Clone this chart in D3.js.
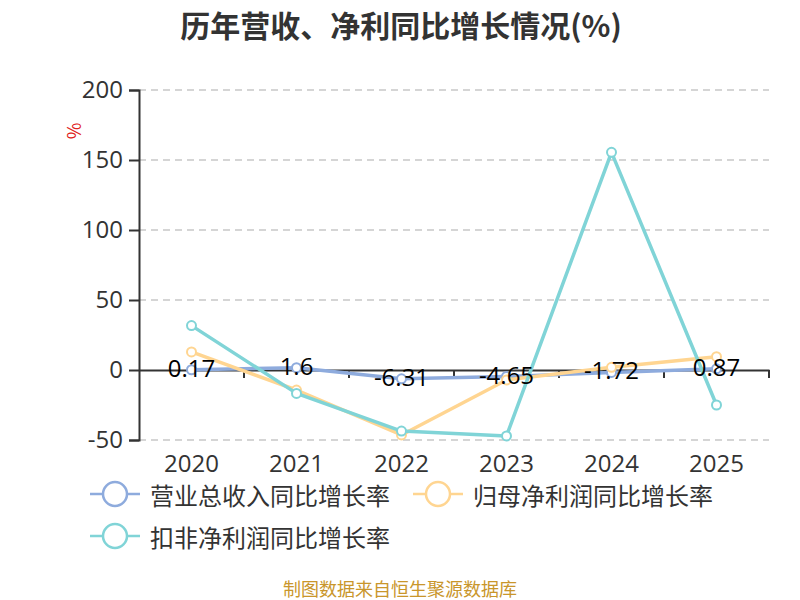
<!DOCTYPE html>
<html><head><meta charset="utf-8">
<script src="https://cdn.jsdelivr.net/npm/d3@7/dist/d3.min.js"></script>
<style>body{margin:0;background:#fff;} svg{display:block;font-family:"Noto Sans CJK SC","Noto Sans",sans-serif;}</style>
</head><body><svg id="c" width="800" height="600"></svg>
<script>
const years = ["2020","2021","2022","2023","2024","2025"];
const seriesNames = ["营业总收入同比增长率","归母净利润同比增长率","扣非净利润同比增长率"];
const revenueGrowth = [0.17, 1.6, -6.31, -4.65, -1.72, 0.87];
const netProfitGrowth = [12.9, -14.3, -46.4, -7.1, 1.9, 9.5];
const deductedProfitGrowth = [31.7, -16.7, -43.6, -47.1, 155.5, -25];
const yTicks = [-50, 0, 50, 100, 150, 200];
const colors = ["#8eabdd", "#ffd591", "#80d4d7"];

const svg = d3.select("#c");
const x = d3.scaleBand().domain(years).range([139, 769]);
const y = d3.scaleLinear().domain([-50, 200]).range([440, 90]);

// title
svg.append("text").attr("x", 401).attr("y", 24).attr("text-anchor", "middle")
  .attr("dominant-baseline", "central")
  .attr("font-size", 30).attr("font-weight", "bold").attr("fill", "#333")
  .text("历年营收、净利同比增长情况(%)");

// grid
svg.append("g").selectAll("line").data(yTicks.filter(d => d !== 0)).join("line")
  .attr("x1", 139).attr("x2", 769).attr("y1", d => y(d)).attr("y2", d => y(d))
  .attr("stroke", "#c8c8c8").attr("stroke-width", 1.5).attr("stroke-dasharray", "7,5");

// y axis
const yAxis = svg.append("g").attr("transform", "translate(139,0)")
  .call(d3.axisLeft(y).tickValues(yTicks).tickFormat(d => String(d)).tickSize(10).tickPadding(6));
yAxis.select(".domain").attr("stroke", "#333").attr("stroke-width", 2);
yAxis.selectAll(".tick line").attr("stroke", "#333").attr("stroke-width", 2);
yAxis.selectAll(".tick text").attr("font-size", 24).attr("fill", "#333")
  .attr("font-family", "'Open Sans','Noto Sans',sans-serif");

// x axis at 0
const xAxis = svg.append("g").attr("transform", `translate(0,${y(0)})`)
  .call(d3.axisBottom(x).tickSize(0).tickPadding(0));
xAxis.select(".domain").attr("stroke", "#333").attr("stroke-width", 2);
xAxis.selectAll(".tick text").remove();
// boundary ticks
const bounds = years.map(d => x(d)).concat([x.range()[1]]);
svg.append("g").selectAll("line").data(bounds.slice(1)).join("line")
  .attr("x1", d => d).attr("x2", d => d).attr("y1", y(0)).attr("y2", y(0) + 8)
  .attr("stroke", "#333").attr("stroke-width", 2);
// x labels at bottom
svg.append("g").selectAll("text").data(years).join("text")
  .attr("x", d => x(d) + x.bandwidth() / 2).attr("y", 472)
  .attr("text-anchor", "middle").attr("font-size", 24).attr("fill", "#333")
  .attr("font-family", "'Open Sans','Noto Sans',sans-serif")
  .text(d => d);

// unit label
svg.append("text").attr("transform", "translate(81,131) rotate(-90)")
  .attr("text-anchor", "middle").attr("font-size", 18).attr("fill", "#e02020").text("%");

// lines
const allSeries = [revenueGrowth, netProfitGrowth, deductedProfitGrowth];
const line = d3.line().x((d, i) => x(years[i]) + x.bandwidth() / 2).y(d => y(d));
allSeries.forEach((s, k) => {
  svg.append("path").datum(s).attr("d", line).attr("fill", "none")
    .attr("stroke", colors[k]).attr("stroke-width", 3.5).attr("stroke-linejoin", "round");
  svg.append("g").selectAll("circle").data(s).join("circle")
    .attr("cx", (d, i) => x(years[i]) + x.bandwidth() / 2).attr("cy", d => y(d))
    .attr("r", 4.5).attr("fill", "#fff").attr("stroke", colors[k]).attr("stroke-width", 2);
});

// labels for revenue
svg.append("g").selectAll("text").data(revenueGrowth).join("text")
  .attr("x", (d, i) => x(years[i]) + x.bandwidth() / 2).attr("y", d => y(d) + 7)
  .attr("text-anchor", "middle").attr("font-size", 24).attr("fill", "#000")
  .attr("font-family", "'Open Sans','Noto Sans',sans-serif")
  .text(d => String(d));

// legend
const legendPos = [[90, 494], [413, 494], [90, 536]];
seriesNames.forEach((n, k) => {
  const [lx, ly] = legendPos[k];
  const g = svg.append("g");
  g.append("line").attr("x1", lx).attr("x2", lx + 50).attr("y1", ly).attr("y2", ly)
    .attr("stroke", colors[k]).attr("stroke-width", 2.5);
  g.append("circle").attr("cx", lx + 25).attr("cy", ly).attr("r", 12)
    .attr("fill", "#fff").attr("stroke", colors[k]).attr("stroke-width", 2.5);
  g.append("text").attr("x", lx + 60).attr("y", ly).attr("dominant-baseline", "central")
    .attr("font-size", 24).attr("fill", "#333").text(n);
});

// source
svg.append("text").attr("x", 400).attr("y", 588).attr("text-anchor", "middle")
  .attr("dominant-baseline", "central").attr("font-size", 18).attr("fill", "#c9962b")
  .text("制图数据来自恒生聚源数据库");
</script></body></html>
